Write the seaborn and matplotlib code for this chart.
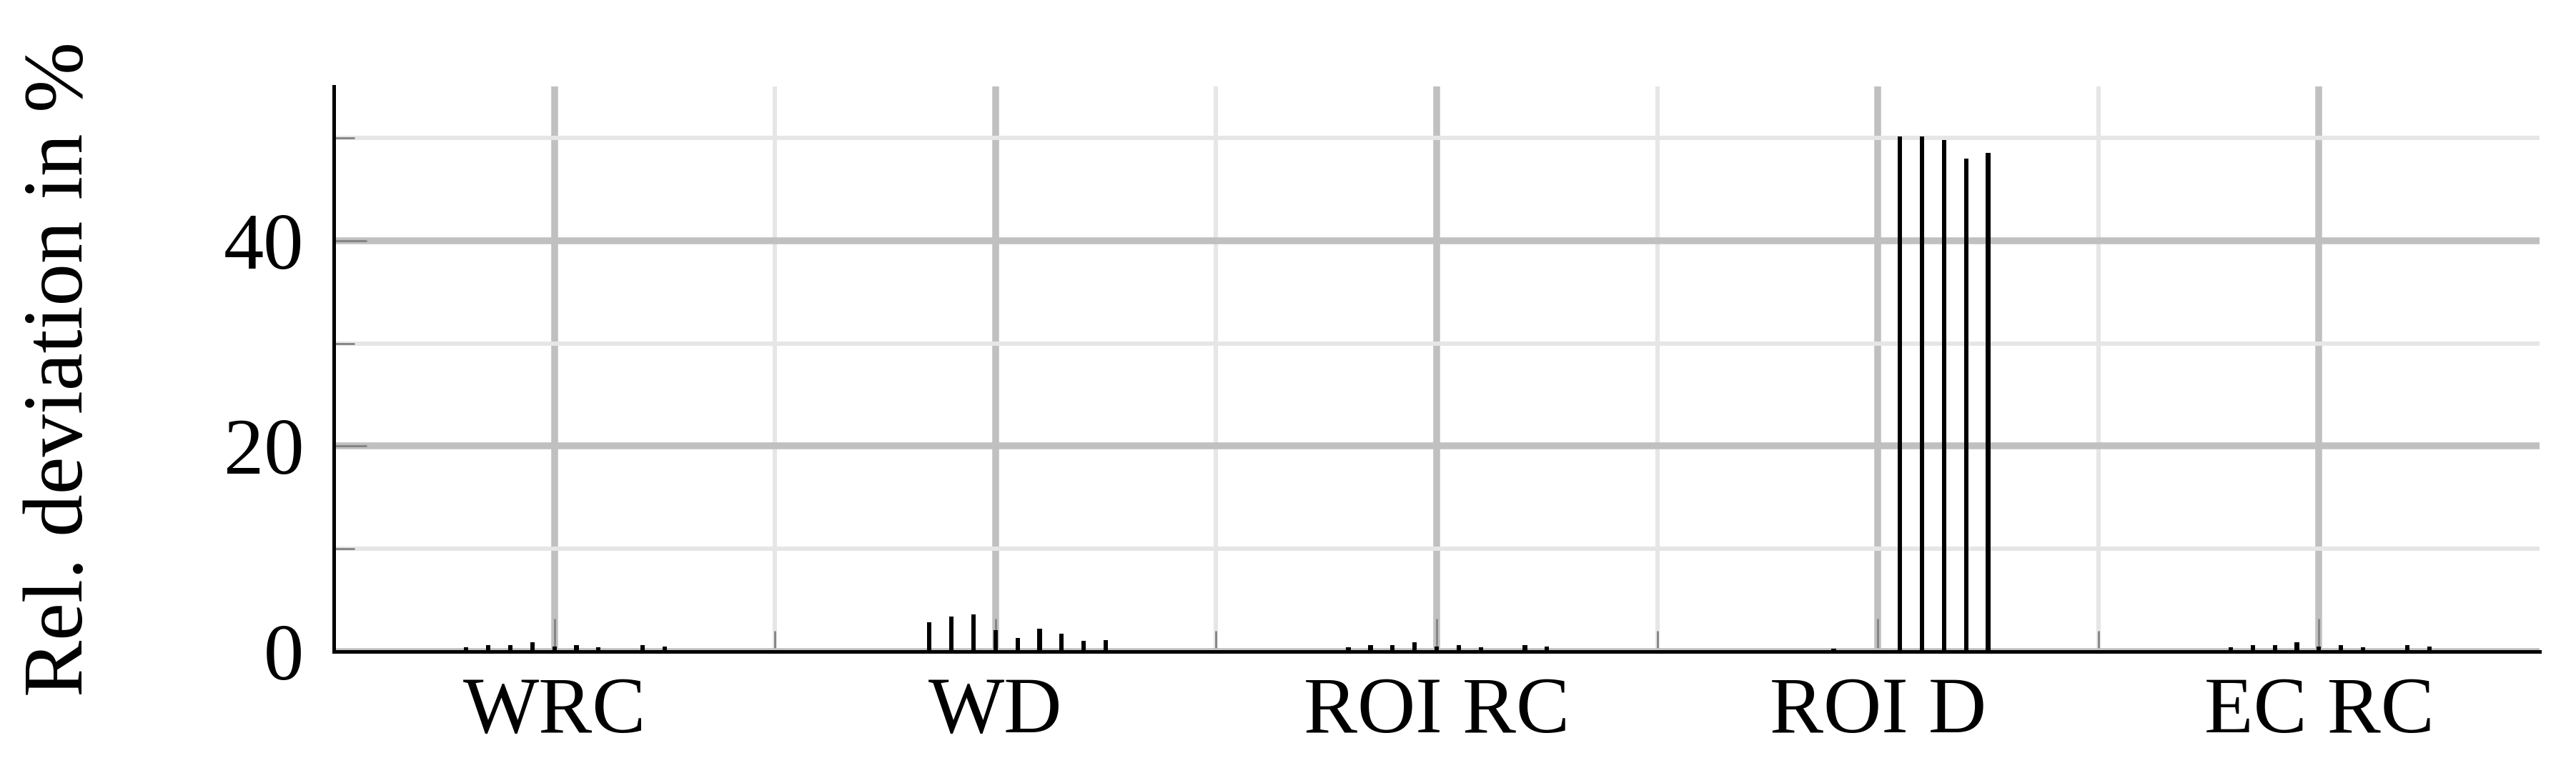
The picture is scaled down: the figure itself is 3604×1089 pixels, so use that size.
"""
Relative deviation per measure, grouped bars drawn as thin black lines.
"""

import numpy as np
import pandas as pd
import seaborn as sns
import matplotlib.pyplot as plt
from matplotlib.ticker import FixedLocator

# categories on the x axis
categories = ['WRC', 'WD', 'ROI RC', 'ROI D', 'EC RC']
# ten cases per category (not labelled in the figure)
cases = [f'case {i}' for i in range(1, 11)]

# relative deviation in % per case
wrc = [0.4, 0.6, 0.6, 0.9, 0.5, 0.6, 0.4, 0.0, 0.6, 0.5]
wd = [0.0, 2.85, 3.4, 3.6, 2.1, 1.35, 2.25, 1.75, 1.05, 1.1]
roi_rc = [0.4, 0.6, 0.6, 0.9, 0.5, 0.6, 0.4, 0.0, 0.6, 0.5]
roi_d = [0.0, 0.0, 0.25, 0.0, 0.0, 50.1, 50.1, 49.8, 48.0, 48.5]
ec_rc = [0.4, 0.6, 0.6, 0.9, 0.5, 0.6, 0.4, 0.0, 0.6, 0.5]

y_major = [0, 20, 40]
y_minor = [10, 30, 50]

values = [wrc, wd, roi_rc, roi_d, ec_rc]
df = pd.DataFrame({
    'measure': np.repeat(categories, len(cases)),
    'case': cases * len(categories),
    'value': np.concatenate(values),
})

sns.set_style('white')
plt.rcParams['font.family'] = ['Liberation Serif', 'DejaVu Serif']
plt.rcParams['text.color'] = 'black'
plt.rcParams['axes.labelcolor'] = 'black'
plt.rcParams['xtick.labelcolor'] = 'black'
plt.rcParams['ytick.labelcolor'] = 'black'

W, H = 3604, 1089
fig = plt.figure(figsize=(W / 300, H / 300), dpi=300)
ax = fig.add_axes([467 / W, 1 - 912 / H, 3086 / W, (912 - 121) / H])

sns.barplot(data=df, x='measure', y='value', hue='case', order=categories,
            hue_order=cases, palette=['black'] * len(cases), width=0.5, gap=0.8,
            linewidth=0, legend=False, ax=ax, zorder=3)

# tick sits on the 5th case of each group
centers = [p.get_x() + p.get_width() / 2 for p in ax.containers[4]]
ax.set_xticks(centers)
ax.set_xticklabels(categories)
ax.xaxis.set_minor_locator(FixedLocator([c + 0.5 for c in centers[:-1]]))
ax.set_xlim(centers[0] - 0.5, centers[-1] + 0.5)

ax.set_ylim(0, 55)
ax.set_yticks(y_major)
ax.yaxis.set_minor_locator(FixedLocator(y_minor))

ax.set_axisbelow(True)
ax.grid(which='major', color='#c0c0c0', lw=2.3)
ax.grid(which='minor', color='#e6e6e6', lw=1.45)

ax.tick_params(which='both', direction='in', color='#808080', width=0.65,
               labelsize=27, left=True, bottom=True, labelcolor='black')
ax.tick_params(which='major', length=11)
ax.tick_params(which='minor', length=7)
ax.tick_params(axis='x', pad=8.5)
ax.tick_params(axis='y', pad=10)

for side in ['top', 'right']:
    ax.spines[side].set_visible(False)
for side in ['left', 'bottom']:
    ax.spines[side].set_color('black')
    ax.spines[side].set_linewidth(1.2)
    ax.spines[side].set_zorder(4)

ax.set_xlabel('')
ax.set_ylabel('Rel. deviation in %', fontsize=28.5, color='black')
ax.yaxis.set_label_coords(-0.106, 0.5)

fig.savefig('out.png', dpi=300, facecolor='white')
